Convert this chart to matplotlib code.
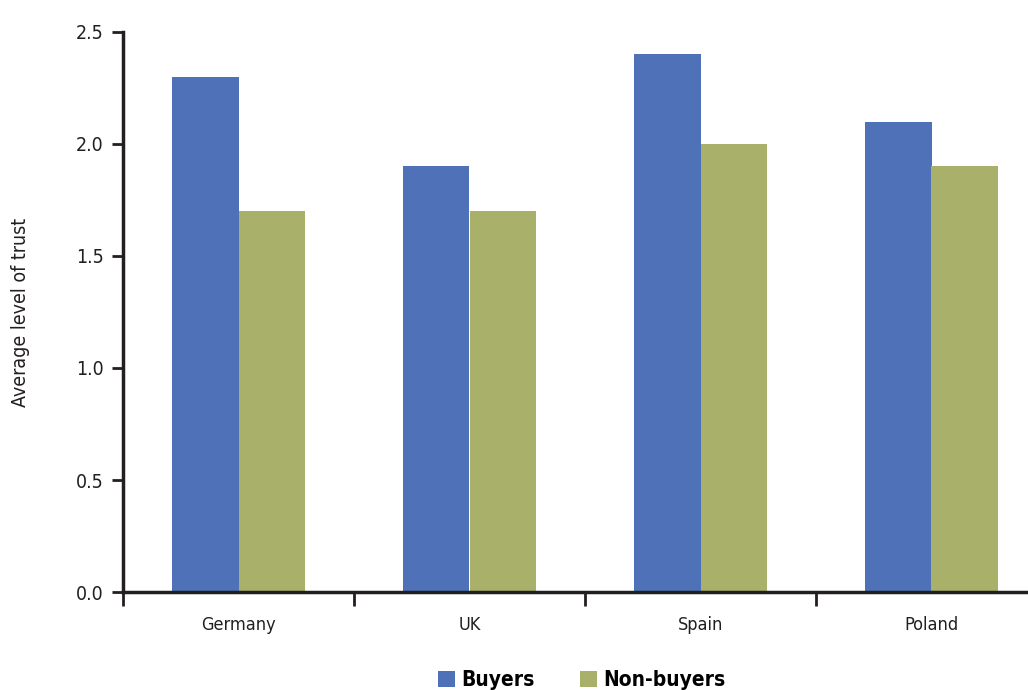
import matplotlib
matplotlib.use('Agg')
import matplotlib.pyplot as plt
import numpy as np

paises = ['Germany', 'UK', 'Spain', 'Poland']
compradores = [2.3, 1.9, 2.4, 2.1]
nao_compradores = [1.7, 1.7, 2.0, 1.9]
yticks = [0.0, 0.5, 1.0, 1.5, 2.0, 2.5]

plt.rcParams['font.family'] = ['DejaVu Sans']
plt.rcParams['font.stretch'] = 'condensed'

fig = plt.figure(figsize=(10.28, 6.9), dpi=100)
ax = fig.add_axes([123/1028, 98/690, 905/1028, 560/690])

x = np.arange(len(paises))
larg = 0.287
ax.bar(x - larg/2, compradores, larg, color='#4F71B7', label='Buyers')
ax.bar(x + larg/2, nao_compradores, larg, color='#A9B06A', label='Non-buyers')

ax.set_xlim(-0.5, -0.5 + 905/231)
ax.set_ylim(0, 2.5)
ax.set_yticks(yticks)
ax.set_yticklabels([f'{v:.1f}' for v in yticks], fontsize=14, color='#231f20')
ax.set_xticks(np.arange(len(paises)) - 0.5)
ax.set_xticklabels([])
ax.set_xticks(x, minor=True)
ax.set_xticklabels(paises, minor=True, fontsize=13, color='#231f20')
ax.tick_params(axis='x', which='major', length=10, width=2, color='#231f20', direction='out')
ax.tick_params(axis='x', which='minor', length=0, pad=17)
ax.tick_params(axis='y', length=8, width=2, color='#231f20', pad=6)

for s in ['top', 'right']:
    ax.spines[s].set_visible(False)
for s in ['left', 'bottom']:
    ax.spines[s].set_linewidth(2.5)
    ax.spines[s].set_color('#231f20')

ax.set_ylabel('Average level of trust', fontsize=14, color='#231f20')
ax.yaxis.set_label_coords(-93/905, 0.5)

fig.legend(loc='center', bbox_to_anchor=(582/1028, 1 - 680/690), ncol=2, frameon=False,
           prop={'weight': 'bold', 'size': 15}, handlelength=0.8, handleheight=0.8,
           handletextpad=0.3, columnspacing=2.2)

fig.savefig('out.png', dpi=100)
